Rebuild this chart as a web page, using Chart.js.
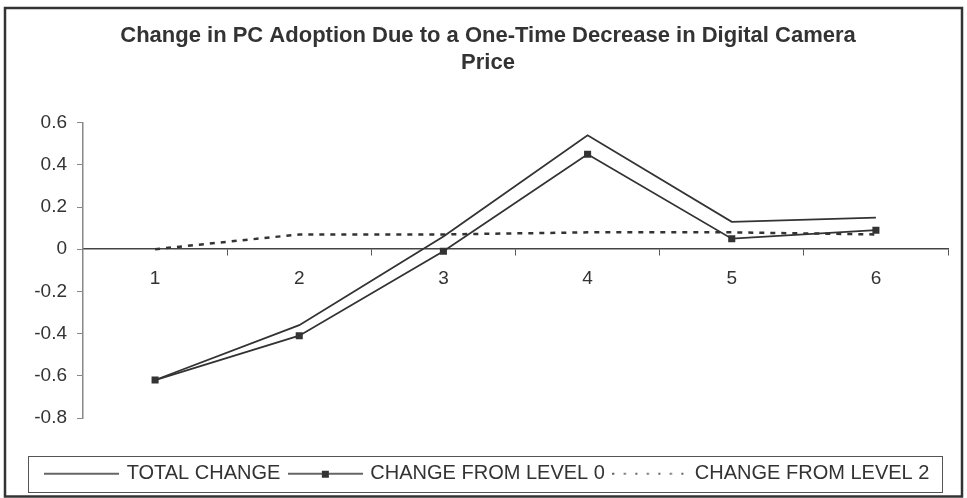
<!DOCTYPE html>
<html>
<head>
<meta charset="utf-8">
<script src="https://cdn.jsdelivr.net/npm/chart.js@4/dist/chart.umd.min.js"></script>
<style>
  html, body { margin: 0; padding: 0; background: #fff; }
</style>
</head>
<body>
<canvas id="chart" width="967" height="498"></canvas>
<script>
// values
const periods = ["1", "2", "3", "4", "5", "6"];
const totalChange = [-0.62, -0.36, 0.06, 0.54, 0.13, 0.15];
const changeLevel0 = [-0.62, -0.41, -0.01, 0.45, 0.05, 0.09];
const changeLevel2 = [0, 0.07, 0.07, 0.08, 0.08, 0.07];
const yTicks = [-0.8, -0.6, -0.4, -0.2, 0, 0.2, 0.4, 0.6];
const seriesNames = ["TOTAL CHANGE", "CHANGE FROM LEVEL 0", "CHANGE FROM LEVEL 2"];
const titleLines = ["Change in PC Adoption Due to a One-Time Decrease in Digital Camera", "Price"];

const ink = "#333";
const fontFamily = "'Liberation Sans', Arial, sans-serif";

// small canvases used as legend samples (line, line with marker, dotted line)
const makeSample = (kind) => {
  const c = document.createElement("canvas");
  c.width = 75;
  c.height = 10;
  const g = c.getContext("2d");
  g.strokeStyle = ink;
  g.lineWidth = kind === "dot" ? 1.5 : 1.4;
  if (kind === "dot") g.setLineDash([2, 9.5]);
  g.beginPath();
  g.moveTo(0, 5);
  g.lineTo(75, 5);
  g.stroke();
  if (kind === "mark") {
    g.fillStyle = ink;
    g.fillRect(34, 2, 7, 7);
  }
  return c;
};
const samples = [makeSample("line"), makeSample("mark"), makeSample("dot")];

// outer frame and the legend box
const framePlugin = {
  id: "frames",
  beforeDraw(chart) {
    const ctx = chart.ctx;
    ctx.save();
    ctx.fillStyle = "#fff";
    ctx.fillRect(0, 0, chart.width, chart.height);
    ctx.strokeStyle = ink;
    ctx.lineWidth = 2.5;
    ctx.strokeRect(5, 8, chart.width - 10, chart.height - 9.5);
    ctx.restore();
  },
  afterDraw(chart) {
    const ctx = chart.ctx;
    const lg = chart.legend;
    const box = lg.legendHitBoxes[0];
    const mid = box.top + box.height / 2;
    ctx.save();
    ctx.strokeStyle = "#555";
    ctx.lineWidth = 1;
    ctx.strokeRect(Math.round(lg.left) + 0.5, Math.round(mid - 18) + 0.5, Math.round(lg.right - 6 - lg.left), 36);
    ctx.restore();
  },
};

const chart = new Chart(document.getElementById("chart"), {
  type: "line",
  data: {
    labels: periods,
    datasets: [
      {
        label: seriesNames[0],
        data: totalChange,
        borderColor: ink,
        borderWidth: 1.8,
        pointRadius: 0,
        tension: 0,
      },
      {
        label: seriesNames[1],
        data: changeLevel0,
        borderColor: ink,
        backgroundColor: ink,
        borderWidth: 1.8,
        pointStyle: "rect",
        pointRadius: 5,
        pointBorderWidth: 0,
        tension: 0,
      },
      {
        label: seriesNames[2],
        data: changeLevel2,
        borderColor: ink,
        borderWidth: 2.5,
        borderDash: [5, 6],
        pointRadius: 0,
        tension: 0,
      },
    ],
  },
  options: {
    responsive: false,
    animation: false,
    layout: { padding: { left: 28, right: 19, top: 8, bottom: 4.3 } },
    plugins: {
      title: {
        display: true,
        text: titleLines,
        color: ink,
        font: { family: fontFamily, size: 22, weight: "bold", lineHeight: 1.23 },
        padding: { top: 14, bottom: 46.5 },
      },
      legend: {
        position: "bottom",
        title: { display: true, text: " ", font: { size: 1, lineHeight: 1 }, padding: { top: 0, bottom: 34.7 } },
        labels: {
          color: ink,
          font: { family: fontFamily, size: 20 },
          usePointStyle: true,
          pointStyleWidth: 70,
          padding: 10,
          generateLabels: (c) =>
            c.data.datasets.map((ds, i) => ({
              text: ds.label,
              pointStyle: samples[i],
              fontColor: ink,
              datasetIndex: i,
              lineWidth: 0,
            })),
        },
      },
      tooltip: { enabled: false },
    },
    scales: {
      x: {
        position: { y: 0 },
        offset: true,
        border: { color: "#444", width: 1.5 },
        grid: { drawOnChartArea: false, tickLength: 6, color: "#555", offset: true },
        ticks: { color: ink, padding: 12, font: { family: fontFamily, size: 19 } },
      },
      y: {
        min: -0.8,
        max: 0.6,
        border: { color: "#888", width: 1.5 },
        grid: { drawOnChartArea: false, tickLength: 6, color: "#888" },
        ticks: {
          color: ink,
          padding: 10,
          font: { family: fontFamily, size: 19 },
          callback: (v) => String(Math.round(v * 10) / 10),
        },
        afterBuildTicks: (s) => {
          s.ticks = yTicks.map((v) => ({ value: v }));
        },
        afterFit: (s) => {
          s.width = 55;
        },
      },
    },
  },
  plugins: [framePlugin],
});
</script>
</body>
</html>
